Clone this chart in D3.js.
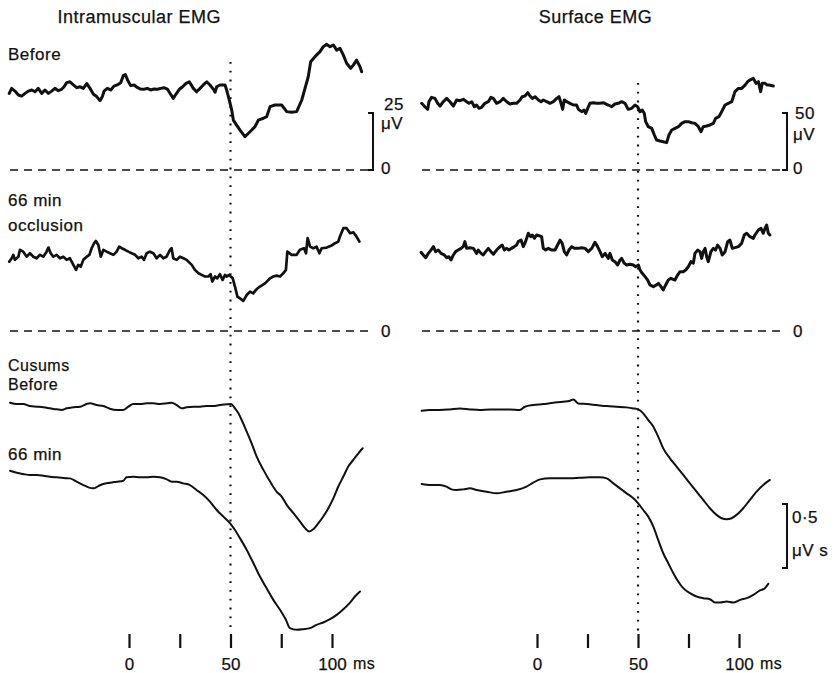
<!DOCTYPE html>
<html>
<head>
<meta charset="utf-8">
<script src="https://cdn.jsdelivr.net/npm/d3@7"></script>
<style>
  body { margin: 0; background: #fff; }
</style>
</head>
<body>
<svg id="fig" width="837" height="673"></svg>
<script>
// time in ms (0 = stimulus), values in µV (EMG) or µV s (cusums, relative to start)
const intraBeforeT = [-59.0,-57.8,-56.2,-54.5,-52.9,-51.2,-49.6,-47.9,-46.3,-44.7,-43.0,-41.4,-39.7,-38.1,-36.5,-34.8,-33.2,-32.0,-30.7,-29.1,-27.4,-25.8,-24.1,-22.5,-20.8,-19.2,-17.5,-15.9,-14.3,-13.1,-12.3,-10.7,-9.0,-7.4,-5.8,-4.1,-2.8,-1.8,-0.7,0.8,2.5,4.1,5.7,7.4,9.0,10.7,12.3,14.0,15.6,17.2,18.9,20.5,21.8,23.1,24.8,26.4,28.1,29.7,31.7,33.3,35.0,36.6,38.3,39.9,41.5,42.4,43.2,44.8,47.3,48.1,49.4,50.6,51.4,53.0,54.7,57.1,59.6,62.1,63.7,66.2,67.8,69.5,71.9,75.2,77.7,80.1,82.6,85.1,86.7,88.3,89.5,91.6,94.1,95.7,97.4,99.0,100.7,102.3,103.9,105.6,107.2,109.2,110.5,112.1,113.8,114.6];
const intraBeforeV = [33.6,35.8,34.6,32.9,32.4,33.6,34.6,35.1,34.3,35.8,33.6,35.1,33.6,34.6,35.8,34.8,35.4,36.5,38.3,38.7,37.3,36.1,36.5,35.8,37.9,35.8,33.2,32.2,30.4,32.2,34.6,35.8,35.1,36.8,37.3,38.3,41.4,41.9,39.5,37.0,37.3,36.2,35.5,35.4,35.8,35.1,35.5,35.4,35.8,36.1,35.5,33.2,31.4,33.2,35.4,36.5,38.0,38.7,35.8,34.3,35.8,37.3,38.7,37.3,35.5,34.1,36.5,37.3,37.3,35.1,30.7,26.3,21.9,19.7,17.5,14.6,16.8,19.0,21.9,22.7,23.4,27.8,28.5,28.5,25.6,25.3,25.6,30.7,35.8,40.9,47.5,49.7,51.9,54.1,55.1,54.1,54.8,52.6,53.4,50.4,46.8,44.6,46.0,48.2,45.3,43.1];

const intra66T = [-59.0,-57.8,-57.0,-56.2,-54.5,-53.7,-52.1,-50.4,-48.8,-47.1,-45.5,-43.9,-42.2,-40.6,-39.7,-38.6,-37.3,-35.6,-34.0,-32.4,-30.7,-29.1,-27.4,-26.1,-25.0,-23.8,-22.5,-20.8,-19.5,-18.4,-17.2,-16.3,-15.1,-13.9,-12.6,-11.0,-9.4,-7.7,-6.1,-4.8,-3.6,-2.0,-0.3,1.3,3.0,4.6,6.2,7.4,8.7,10.3,12.0,13.6,15.3,16.9,18.5,20.2,21.0,21.8,23.5,25.1,26.8,28.4,30.9,32.5,34.2,35.8,37.4,39.1,40.2,41.0,42.4,43.5,44.8,46.1,47.3,48.1,49.4,50.1,51.1,52.2,53.4,54.7,56.3,58.0,59.6,61.2,62.9,64.5,67.0,69.5,71.1,72.7,74.4,76.0,77.3,78.0,80.1,82.6,84.2,86.2,87.2,88.0,89.2,90.8,92.4,93.8,94.9,97.4,99.8,101.5,103.1,103.9,105.6,107.2,108.9,110.5,112.1,113.5];
const intra66V = [30.4,31.9,33.4,31.2,32.6,35.6,34.8,32.6,34.1,32.6,31.9,33.4,32.6,34.8,36.6,34.1,32.6,33.4,31.9,32.6,31.2,31.9,29.0,26.8,29.0,28.2,31.2,32.6,33.4,36.3,38.5,39.5,37.7,32.6,35.6,34.8,34.1,33.4,34.8,37.0,36.3,35.6,34.8,34.1,33.4,31.9,32.6,31.2,34.1,34.8,34.1,31.9,33.4,31.9,32.6,35.6,36.3,31.9,31.2,32.6,31.9,31.2,29.0,26.8,25.3,24.6,23.9,23.9,24.9,21.7,23.9,23.1,24.9,22.4,24.6,23.9,24.6,23.9,23.1,19.5,15.1,14.3,13.2,15.8,17.3,16.5,18.4,19.5,20.9,23.1,23.9,24.3,23.9,25.3,26.8,34.8,33.4,33.4,35.6,36.3,34.1,40.7,37.0,36.3,37.0,34.1,36.3,36.6,37.5,38.5,39.2,41.4,45.1,45.1,42.9,43.3,41.4,39.2];

const surfBeforeT = [-57.1,-55.5,-54.1,-53.5,-52.2,-50.5,-49.2,-48.0,-46.4,-44.7,-43.1,-41.4,-39.8,-38.1,-36.5,-34.8,-33.7,-32.3,-31.0,-29.9,-28.7,-27.4,-25.8,-24.1,-22.8,-21.6,-20.0,-18.3,-16.7,-15.0,-13.4,-11.7,-10.1,-8.4,-7.3,-6.0,-4.6,-3.5,-2.3,-1.0,0.7,2.0,3.1,4.8,6.4,8.1,9.7,10.9,11.9,12.7,13.5,14.7,16.3,18.0,19.6,20.5,22.1,23.3,24.1,25.1,26.2,27.9,29.5,31.2,32.8,35.3,37.0,38.6,40.3,41.9,43.6,44.4,45.2,46.9,48.5,49.8,51.0,52.1,53.1,53.8,55.1,56.8,58.1,59.2,60.9,62.5,64.2,65.3,66.7,68.3,70.0,71.6,73.3,74.9,76.6,78.2,79.9,81.2,82.3,84.0,85.6,87.3,88.4,90.1,91.4,93.1,94.7,96.4,98.0,99.7,101.3,103.0,104.3,105.4,107.1,108.4,109.6,110.7,111.5,112.9,114.0,114.8,117.0];
const surfBeforeV = [58.5,55.5,53.2,59.9,63.7,62.8,58.5,56.1,59.9,62.8,59.9,56.1,61.4,60.8,62.0,59.9,58.5,59.9,55.5,57.0,54.1,55.0,58.5,59.9,63.7,62.8,58.5,59.9,62.8,59.9,57.9,58.5,58.5,61.4,64.3,64.9,67.8,64.9,62.8,64.3,61.4,59.9,61.4,59.9,58.5,59.9,62.8,64.3,58.5,53.2,61.4,59.9,58.5,57.0,57.0,53.2,51.2,52.6,49.7,54.1,58.5,59.0,58.5,58.5,59.0,57.0,55.5,57.9,58.5,59.9,58.5,55.5,53.2,54.1,57.0,55.5,51.1,52.6,49.7,42.4,38.0,36.5,30.7,26.3,25.4,24.8,24.0,30.7,35.1,36.5,38.0,40.9,42.4,42.4,41.5,40.9,38.0,33.6,38.0,38.6,39.5,40.9,45.3,46.8,51.1,57.0,58.5,59.9,68.7,71.6,71.6,74.5,77.5,78.9,80.4,76.0,77.5,68.7,76.0,76.0,74.5,74.5,73.7];

const surf66T = [-57.4,-56.3,-55.1,-53.8,-52.5,-51.3,-50.2,-48.9,-47.5,-45.9,-44.7,-43.6,-42.6,-41.4,-40.3,-39.0,-37.6,-36.5,-35.7,-34.8,-33.2,-31.5,-29.9,-29.1,-27.7,-26.6,-25.4,-24.1,-22.8,-21.6,-20.0,-18.3,-17.2,-16.2,-15.0,-13.9,-12.6,-11.2,-10.1,-9.3,-7.9,-6.8,-6.0,-5.1,-4.3,-3.1,-2.3,-1.3,-0.2,1.0,2.3,3.1,4.3,5.6,7.3,8.9,10.2,11.4,12.5,13.5,14.7,15.8,17.2,18.5,20.5,22.1,23.8,25.4,27.1,28.7,30.0,31.2,32.3,33.7,35.3,36.1,37.3,38.6,39.9,41.1,41.9,43.2,44.4,46.0,47.7,48.8,50.2,51.0,52.1,53.5,54.8,55.9,57.6,59.2,60.1,61.4,62.5,63.7,65.0,66.3,68.3,69.6,70.8,72.4,73.6,74.9,76.2,77.4,78.2,79.5,80.7,81.5,82.3,83.2,84.0,84.8,86.1,87.3,88.4,89.4,90.6,91.7,93.1,94.4,95.5,96.7,98.0,99.7,101.3,102.6,103.8,105.4,107.1,107.9,109.6,110.9,112.0,112.9,113.7,114.5,115.3];
const surf66V = [69.0,66.7,64.3,68.1,71.0,74.0,69.6,71.0,68.1,66.7,64.3,65.2,62.3,66.7,69.6,71.0,72.5,74.0,78.4,72.5,73.1,72.5,68.1,71.0,68.1,66.7,69.6,72.5,69.6,67.3,71.0,74.0,75.4,71.0,72.5,71.0,72.5,74.0,75.4,78.4,79.8,74.0,76.9,81.3,85.7,82.7,84.2,81.3,84.2,83.6,82.7,72.5,71.0,72.5,71.0,71.0,75.4,79.8,76.9,69.6,66.7,71.0,74.0,72.5,72.5,73.1,72.5,69.6,72.5,77.8,74.0,69.6,65.2,68.1,63.7,68.1,62.3,60.8,57.9,62.3,63.7,59.4,57.9,58.5,57.9,56.4,57.9,53.5,50.6,47.7,44.7,40.4,38.9,40.4,41.8,38.9,36.0,40.4,44.7,46.2,44.7,49.1,52.0,52.0,53.5,56.4,60.8,59.4,68.1,71.0,69.6,63.7,69.6,72.5,65.2,60.8,69.6,72.5,71.0,75.4,72.5,66.7,69.6,78.4,79.8,72.5,73.1,74.0,76.9,84.2,85.7,82.7,81.3,84.2,88.6,90.1,85.7,90.1,93.0,85.7,84.2];

const cusIntraBeforeT = [-58.6,-55.3,-52.1,-48.8,-45.5,-42.2,-38.9,-35.6,-33.2,-30.7,-27.4,-24.1,-20.9,-19.2,-15.9,-12.6,-9.4,-6.1,-2.8,-0.3,2.1,5.4,8.7,12.0,15.3,18.6,21.0,23.5,26.0,28.4,31.7,35.0,38.3,41.5,44.8,48.1,50.2,52.2,53.9,55.5,58.0,60.4,62.9,66.2,69.5,72.7,75.2,77.7,81.0,84.2,86.7,88.8,90.8,93.3,95.7,98.2,100.7,103.1,105.6,108.0,110.5,113.0,115.1];
const cusIntraBeforeV = [0,-0.010,-0.010,-0.026,-0.031,-0.036,-0.044,-0.052,-0.057,-0.044,-0.036,-0.031,-0.010,-0.005,-0.018,-0.026,-0.047,-0.057,-0.057,-0.031,-0.010,-0.010,-0.005,-0.005,-0.010,-0.005,0,-0.018,-0.044,-0.036,-0.031,-0.031,-0.026,-0.026,-0.018,-0.013,-0.010,-0.044,-0.083,-0.135,-0.226,-0.317,-0.421,-0.525,-0.616,-0.694,-0.733,-0.798,-0.863,-0.928,-0.980,-1.006,-0.988,-0.941,-0.889,-0.824,-0.746,-0.655,-0.577,-0.499,-0.447,-0.395,-0.356];

const cusIntra66T = [-58.6,-55.3,-52.1,-48.8,-45.5,-42.2,-38.9,-35.6,-32.4,-29.1,-25.8,-22.5,-20.0,-17.6,-15.1,-12.7,-9.4,-6.1,-2.8,-1.2,2.1,5.4,8.7,12.0,15.3,18.6,21.0,23.5,26.8,30.0,33.3,36.6,39.9,43.2,46.5,49.8,52.2,54.7,58.0,61.3,64.5,67.8,71.1,74.4,77.3,79.3,82.6,85.9,89.1,92.4,95.7,99.0,102.3,105.6,108.9,111.3,113.8];
const cusIntra66V = [0,-0.016,-0.026,-0.034,-0.034,-0.039,-0.047,-0.052,-0.057,-0.060,-0.086,-0.112,-0.130,-0.138,-0.120,-0.104,-0.094,-0.086,-0.078,-0.052,-0.047,-0.052,-0.052,-0.047,-0.052,-0.068,-0.086,-0.086,-0.099,-0.112,-0.151,-0.190,-0.242,-0.307,-0.359,-0.411,-0.463,-0.528,-0.619,-0.723,-0.827,-0.918,-1.009,-1.087,-1.165,-1.230,-1.243,-1.238,-1.230,-1.204,-1.186,-1.160,-1.126,-1.082,-1.030,-0.983,-0.944];

const cusSurfBeforeT = [-57.1,-53.0,-48.1,-43.1,-38.2,-33.2,-28.3,-23.3,-18.4,-13.4,-8.5,-6.0,-1.9,3.1,8.1,13.0,16.3,18.0,20.4,24.6,29.5,34.5,39.4,44.4,47.7,50.1,52.6,55.1,57.6,60.0,62.5,65.8,69.1,72.4,75.7,79.0,82.3,85.6,88.9,91.4,93.9,96.3,98.8,102.1,105.4,108.7,112.0,115.3];
const cusSurfBeforeV = [0,0.005,0.005,0.010,0.018,0.010,0.005,0.010,0.010,0.010,0.005,0.031,0.044,0.052,0.062,0.070,0.078,0.088,0.057,0.052,0.044,0.036,0.031,0.026,0.018,0.010,-0.021,-0.073,-0.125,-0.203,-0.294,-0.372,-0.437,-0.502,-0.567,-0.632,-0.697,-0.762,-0.814,-0.840,-0.848,-0.840,-0.814,-0.762,-0.697,-0.632,-0.580,-0.541];

const cusSurf66T = [-57.1,-53.0,-48.1,-44.8,-42.3,-39.8,-36.5,-33.2,-29.9,-25.0,-20.0,-15.1,-10.1,-5.2,-1.9,1.5,6.4,11.4,16.3,21.3,26.2,31.2,34.5,37.8,41.1,44.4,47.7,50.1,52.6,55.1,57.6,60.0,62.5,65.0,67.5,69.9,72.4,75.7,79.0,82.3,85.6,88.1,90.6,93.9,97.2,100.5,103.8,107.1,110.4,112.8,114.5];
const cusSurf66V = [0,-0.008,-0.008,-0.021,-0.042,-0.047,-0.042,-0.034,-0.047,-0.060,-0.073,-0.060,-0.047,-0.021,0.010,0.036,0.044,0.044,0.044,0.049,0.052,0.052,0.044,0.005,-0.034,-0.073,-0.112,-0.151,-0.203,-0.255,-0.333,-0.437,-0.541,-0.619,-0.697,-0.762,-0.814,-0.853,-0.879,-0.892,-0.900,-0.926,-0.926,-0.918,-0.926,-0.905,-0.892,-0.866,-0.832,-0.814,-0.780];

const timeTicks = [0, 25, 50, 75, 100];
const titles = ["Intramuscular EMG", "Surface EMG"];

const svg = d3.select("#fig");
const font = "'Liberation Sans', Arial, Helvetica, sans-serif";
const ink = "#111";

const xL = d3.scaleLinear().domain([0, 100]).range([129, 332]);
const xR = d3.scaleLinear().domain([0, 100]).range([537, 739]);

const yIntraBefore = d3.scaleLinear().domain([0, 25]).range([170, 113]);
const yIntra66 = d3.scaleLinear().domain([0, 25]).range([331, 274]);
const ySurfBefore = d3.scaleLinear().domain([0, 50]).range([170, 113]);
const ySurf66 = d3.scaleLinear().domain([0, 50]).range([331, 274]);
// cusums: 0.5 µV s = 64 px, each trace hung from its own start level
const cus = y0 => d3.scaleLinear().domain([0, 0.5]).range([y0, y0 - 64]);

function trace(x, y, T, V, w, curve) {
  const line = d3.line().x(d => x(d[0])).y(d => y(d[1]));
  if (curve) line.curve(curve);
  svg.append("path")
    .datum(d3.zip(T, V))
    .attr("d", line)
    .attr("fill", "none")
    .attr("stroke", ink)
    .attr("stroke-width", w)
    .attr("stroke-linejoin", "round")
    .attr("stroke-linecap", "round");
}

function label(x, y, txt, size, anchor) {
  svg.append("text")
    .attr("x", x).attr("y", y)
    .attr("font-family", font)
    .attr("font-size", size || 17)
    .attr("letter-spacing", 0.5)
    .attr("text-anchor", anchor || "start")
    .attr("fill", ink)
    .attr("stroke", ink).attr("stroke-width", 0.25)
    .text(txt);
}

// dashed zero lines
[[xL, yIntraBefore, -58.6, 119.5], [xL, yIntra66, -58.6, 119.5],
 [xR, ySurfBefore, -56.9, 122.5], [xR, ySurf66, -56.9, 122.5]].forEach(([x, y, a, b]) => {
  svg.append("line")
    .attr("x1", x(a)).attr("x2", x(b))
    .attr("y1", y(0)).attr("y2", y(0))
    .attr("stroke", ink).attr("stroke-width", 1.7)
    .attr("stroke-dasharray", "8,6");
});

// dotted line at 50 ms
[[xL, 62], [xR, 83]].forEach(([x, top]) => {
  svg.append("line")
    .attr("x1", x(50)).attr("x2", x(50))
    .attr("y1", top).attr("y2", 632)
    .attr("stroke", ink).attr("stroke-width", 2.2)
    .attr("stroke-dasharray", "1.8,7");
});

// EMG traces
trace(xL, yIntraBefore, intraBeforeT, intraBeforeV, 3);
trace(xL, yIntra66, intra66T, intra66V, 2.7);
trace(xR, ySurfBefore, surfBeforeT, surfBeforeV, 3);
trace(xR, ySurf66, surf66T, surf66V, 3);

// cusums
trace(xL, cus(402.7), cusIntraBeforeT, cusIntraBeforeV, 2, d3.curveMonotoneX);
trace(xL, cus(470.7), cusIntra66T, cusIntra66V, 2, d3.curveMonotoneX);
trace(xR, cus(410.7), cusSurfBeforeT, cusSurfBeforeV, 2, d3.curveMonotoneX);
trace(xR, cus(484), cusSurf66T, cusSurf66V, 2, d3.curveMonotoneX);

// time axes
[xL, xR].forEach(x => {
  const g = svg.append("g")
    .attr("transform", "translate(0,634)")
    .call(d3.axisBottom(x).tickValues(timeTicks).tickSize(14).tickPadding(10)
      .tickFormat(d => d % 50 === 0 ? d : ""));
  g.select(".domain").remove();
  g.selectAll(".tick line").attr("stroke", ink).attr("stroke-width", 2.2);
  g.selectAll(".tick text").attr("font-family", font).attr("font-size", 17)
    .attr("fill", ink).attr("stroke", ink).attr("stroke-width", 0.25);
  label(x(100) + 21, 669, "ms", 16);
});

// titles
label(xL(5), 23, titles[0], 18, "middle");
label(xR(29), 23, titles[1], 18, "middle");

// row labels
label(8, 60, "Before");
label(8, 206, "66 min");
label(8, 231, "occlusion");
label(8, 371, "Cusums", 16);
label(8, 390, "Before", 16);
label(8, 460, "66 min");

// calibration brackets
function bracket(x, y1, y2) {
  svg.append("path")
    .attr("d", `M${x - 5},${y1}H${x}V${y2}H${x - 5}`)
    .attr("fill", "none").attr("stroke", ink).attr("stroke-width", 2);
}
bracket(373, yIntraBefore(25), yIntraBefore(0));
label(384, 110, "25");
label(381, 129, "μV");
label(381, 174, "0");
label(381, 337, "0");

bracket(787, ySurfBefore(50), ySurfBefore(0));
label(795, 119, "50");
label(793, 140, "μV");
label(793, 174, "0");
label(793, 337, "0");

const cy = cus(504);
bracket(787, cy(0), cy(-0.5));
label(792, 523, "0·5");
label(792, 556, "μV s");
</script>
</body>
</html>
